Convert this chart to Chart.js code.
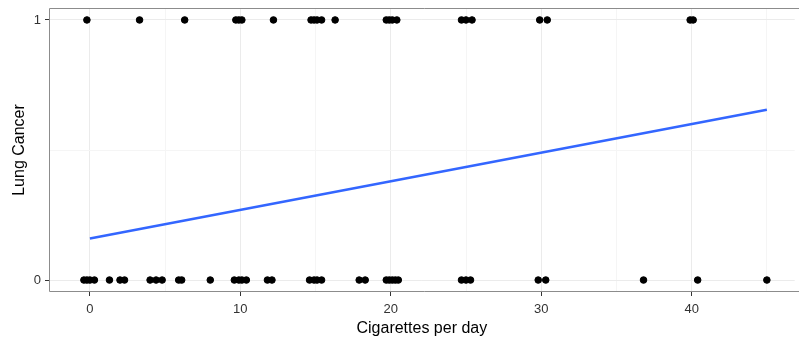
<!DOCTYPE html>
<html>
<head>
<meta charset="utf-8">
<script src="https://cdn.jsdelivr.net/npm/chart.js@4"></script>
<style>
  html, body { margin: 0; padding: 0; background: #fff; }
  #wrap { width: 799px; height: 338px; position: relative; }
</style>
</head>
<body>
<div id="wrap"><canvas id="chart"></canvas></div>
<script>
// Cigarettes per day for people with lung cancer (y = 1) and without (y = 0)
const cancerX = [-0.2, 3.3, 6.3, 9.7, 9.9, 10.1, 12.2, 14.7, 14.9, 15.1, 15.4, 16.3,
  19.7, 19.9, 20.1, 20.4, 24.7, 25.0, 25.4, 29.9, 30.4, 39.9, 40.1];
const noCancerX = [-0.4, -0.2, 0, 0.3, 1.3, 2.0, 2.3, 4.0, 4.4, 4.8, 5.9, 6.1, 8.0,
  9.6, 9.9, 10.1, 10.4, 11.8, 12.1, 14.6, 14.9, 15.1, 15.4, 17.9, 18.3,
  19.7, 19.9, 20.1, 20.3, 20.5, 24.7, 25.0, 25.3, 29.8, 30.3, 36.8, 40.4, 45.0];

// linear fit
const fitX = [0, 45];
const fitY = [0.16, 0.655];

const xTicks = [0, 5, 10, 15, 20, 25, 30, 35, 40, 45];
const xLabels = ['0', '', '10', '', '20', '', '30', '', '40', ''];
const yTicks = [0, 0.5, 1];
const yLabels = ['0', '', '1'];

const points = [
  ...cancerX.map(x => ({ x: x, y: 1 })),
  ...noCancerX.map(x => ({ x: x, y: 0 }))
];
const fit = fitX.map((x, i) => ({ x: x, y: fitY[i] }));

// panel runs off the right edge, so only top / left / bottom sides show
const panelBorder = {
  id: 'panelBorder',
  afterDraw(chart) {
    const a = chart.chartArea;
    const ctx = chart.ctx;
    ctx.save();
    ctx.strokeStyle = '#8c8c8c';
    ctx.lineWidth = 1;
    ctx.beginPath();
    ctx.moveTo(a.right + 10, a.top + 0.5);
    ctx.lineTo(a.left + 0.5, a.top + 0.5);
    ctx.lineTo(a.left + 0.5, a.bottom - 0.5);
    ctx.lineTo(a.right + 10, a.bottom - 0.5);
    ctx.stroke();
    ctx.restore();
  }
};

const isMajor = (vals, v) => vals.indexOf(v) % 2 === 0;
const font = 'Liberation Sans, Arial, sans-serif';

new Chart(document.getElementById('chart'), {
  type: 'scatter',
  data: {
    datasets: [
      {
        data: points,
        backgroundColor: '#000',
        borderColor: '#000',
        pointRadius: 3.3,
        pointHoverRadius: 3.3
      },
      {
        type: 'line',
        data: fit,
        borderColor: '#3366ff',
        borderWidth: 2.5,
        pointRadius: 0,
        fill: false
      }
    ]
  },
  plugins: [panelBorder],
  options: {
    responsive: true,
    maintainAspectRatio: false,
    animation: false,
    layout: { padding: { top: 8, right: 0, left: 0, bottom: 0 } },
    plugins: { legend: { display: false }, tooltip: { enabled: false } },
    scales: {
      x: {
        type: 'linear',
        min: -2.72,
        max: 46.85,
        afterBuildTicks: s => { s.ticks = xTicks.map(v => ({ value: v })); },
        afterFit: s => { s.height = 46; s.paddingRight = 0; },
        border: { display: false },
        grid: {
          color: c => isMajor(xTicks, c.tick && c.tick.value) ? '#ebebeb' : '#f5f5f5',
          tickColor: c => isMajor(xTicks, c.tick && c.tick.value) ? '#333' : 'rgba(0,0,0,0)',
          tickLength: 4,
          lineWidth: 1
        },
        ticks: {
          color: '#333',
          font: { family: font, size: 13 },
          padding: 6,
          maxRotation: 0,
          autoSkip: false,
          callback: (v) => xLabels[xTicks.indexOf(v)]
        },
        title: {
          display: true,
          text: 'Cigarettes per day',
          color: '#000',
          font: { family: font, size: 16 },
          padding: { top: 0, bottom: 0 }
        }
      },
      y: {
        type: 'linear',
        min: -0.046,
        max: 1.046,
        afterBuildTicks: s => { s.ticks = yTicks.map(v => ({ value: v })); },
        afterFit: s => { s.width = 49; s.paddingTop = 0; s.paddingBottom = 0; },
        border: { display: false },
        grid: {
          color: c => isMajor(yTicks, c.tick && c.tick.value) ? '#ebebeb' : '#f5f5f5',
          tickColor: c => isMajor(yTicks, c.tick && c.tick.value) ? '#333' : 'rgba(0,0,0,0)',
          tickLength: 4,
          lineWidth: 1
        },
        ticks: {
          color: '#333',
          font: { family: font, size: 13 },
          padding: 4,
          autoSkip: false,
          callback: (v) => yLabels[yTicks.indexOf(v)]
        },
        title: {
          display: true,
          text: 'Lung Cancer',
          color: '#000',
          font: { family: font, size: 16 },
          padding: { top: 10, bottom: 0 }
        }
      }
    }
  }
});
</script>
</body>
</html>
